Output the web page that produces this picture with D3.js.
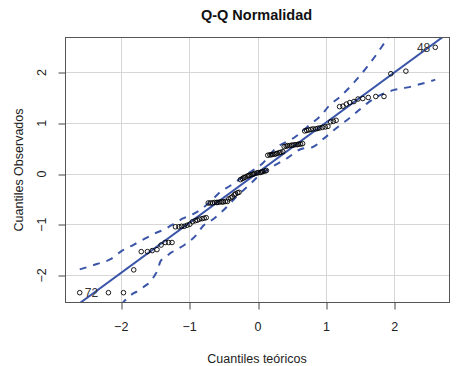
<!DOCTYPE html>
<html><head><meta charset="utf-8">
<script src="https://cdn.jsdelivr.net/npm/d3@7"></script>
<style>body{margin:0;background:#fff} svg{display:block}</style>
</head><body><svg id="c" width="456" height="366"></svg>
<script>
const theoretical = [
 -2.60,-2.18,-1.96,-1.81,-1.70,-1.61,-1.54,-1.47,-1.41,-1.35,-1.30,-1.25,-1.20,-1.15,-1.11,-1.07,-1.03,-0.99,
 -0.95,-0.91,-0.88,-0.85,-0.81,-0.78,-0.75,-0.72,-0.69,-0.66,-0.63,-0.60,-0.58,-0.55,-0.52,-0.50,-0.47,-0.44,
 -0.42,-0.39,-0.37,-0.34,-0.32,-0.29,-0.27,-0.25,-0.22,-0.20,-0.18,-0.15,-0.13,-0.11,-0.08,-0.06,-0.04,-0.01,
 0.01,0.04,0.06,0.08,0.11,0.13,0.15,0.18,0.20,0.22,0.25,0.27,0.29,0.32,0.34,0.37,0.39,0.42,
 0.44,0.47,0.50,0.52,0.55,0.58,0.60,0.63,0.66,0.69,0.72,0.75,0.78,0.81,0.85,0.88,0.91,0.95,
 0.99,1.03,1.07,1.11,1.15,1.20,1.25,1.30,1.35,1.41,1.47,1.54,1.62,1.73,1.85,1.95,2.17,2.60
];
const observed = [
 -2.35,-2.35,-2.35,-1.90,-1.54,-1.54,-1.52,-1.50,-1.41,-1.36,-1.36,-1.36,
 -1.05,-1.05,-1.04,-1.04,-1.02,-1.00,
 -0.95,-0.93,-0.92,-0.90,-0.89,-0.88,-0.87,
 -0.58,-0.58,-0.58,-0.57,-0.57,-0.57,-0.56,-0.56,-0.56,-0.55,-0.55,
 -0.50,-0.48,-0.46,-0.42,-0.40,-0.38,-0.37,
 -0.12,-0.10,-0.08,-0.07,-0.05,-0.04,-0.03,-0.02,-0.01,0.00,0.01,0.02,0.02,0.03,0.04,0.05,0.06,
 0.36,0.37,0.37,0.38,0.38,0.39,0.40,0.41,0.42,0.43,
 0.53,0.54,0.55,0.55,0.56,0.56,0.57,0.57,0.58,0.58,0.59,
 0.84,0.85,0.86,0.87,0.88,0.88,0.89,0.90,0.91,0.92,0.93,
 1.02,1.03,1.05,
 1.32,1.33,1.37,1.40,1.42,1.47,1.48,1.50,1.52,1.52,
 1.97,2.02,2.49
];
const idIndex = [0, 107];
const idText = ["72", "48"];
const idSide = ["right", "left"];

const lineIntercept = 0.014;
const lineSlope = 0.989;

// Simulated confidence envelope
const upperX = [-2.60,-2.35,-2.15,-1.98,-1.82,-1.64,-1.50,-1.36,-1.21,-1.09,-0.93,-0.80,-0.65,-0.55,-0.40,-0.25,-0.14,0.08,0.26,0.55,0.78,0.91,1.05,1.22,1.38,1.60,1.74,1.91,2.20,2.60];
const upperY = [-1.89,-1.785,-1.69,-1.52,-1.41,-1.28,-1.18,-1.10,-0.98,-0.886,-0.79,-0.68,-0.50,-0.37,-0.24,-0.10,0.00,0.21,0.49,0.72,0.98,1.12,1.34,1.53,1.75,2.10,2.35,2.68,3.10,3.80];
const lowerX = [-2.60,-2.20,-1.97,-1.81,-1.72,-1.65,-1.58,-1.50,-1.47,-1.41,-1.38,-1.26,-1.21,-1.06,-0.90,-0.80,-0.65,-0.45,-0.31,-0.09,0.03,0.20,0.43,0.65,0.80,0.97,1.11,1.37,1.60,1.80,2.00,2.20,2.37,2.60];
const lowerY = [-3.70,-3.00,-2.55,-2.36,-2.30,-2.22,-2.15,-2.00,-1.93,-1.71,-1.69,-1.555,-1.52,-1.40,-1.22,-1.04,-0.90,-0.66,-0.46,-0.185,-0.03,0.12,0.30,0.49,0.52,0.69,0.85,1.12,1.38,1.55,1.65,1.70,1.76,1.85];

const xTicks = [-2,-1,0,1,2];
const yTicks = [-2,-1,0,1,2];
const titleText = "Q-Q Normalidad";
const xTitle = "Cuantiles teóricos";
const yTitle = "Cuantiles Observados";

const FONT = "'Liberation Sans', Arial, Helvetica, sans-serif";
const BLUE = "#3a55a8";
const L = 65.5, R = 449.5, T = 37.5, B = 302.5;

function rExtend(ext){ const d = ext[1]-ext[0]; return [ext[0]-0.04*d, ext[1]+0.04*d]; }
const x = d3.scaleLinear().domain(rExtend(d3.extent(theoretical))).range([L, R]);
const y = d3.scaleLinear().domain(rExtend(d3.extent(observed))).range([B, T]);

const svg = d3.select("#c");
svg.append("rect").attr("width",456).attr("height",366).attr("fill","#fff");

svg.append("defs").append("clipPath").attr("id","clip")
  .append("rect").attr("x",L).attr("y",T).attr("width",R-L).attr("height",B-T);

// grid
const grid = svg.append("g").attr("stroke","#d6d6d6").attr("stroke-width",1);
grid.selectAll(".gx").data(xTicks).enter().append("line")
  .attr("x1",d=>Math.round(x(d))+0.5).attr("x2",d=>Math.round(x(d))+0.5).attr("y1",T).attr("y2",B);
grid.selectAll(".gy").data(yTicks).enter().append("line")
  .attr("y1",d=>Math.round(y(d))+0.5).attr("y2",d=>Math.round(y(d))+0.5).attr("x1",L).attr("x2",R);

const plot = svg.append("g").attr("clip-path","url(#clip)");

// envelope
const lineGen = d3.line().x(d=>x(d[0])).y(d=>y(d[1])).curve(d3.curveMonotoneX);
plot.append("path").datum(upperX.map((v,i)=>[v,upperY[i]]))
  .attr("d",lineGen).attr("fill","none").attr("stroke",BLUE).attr("stroke-width",2).attr("stroke-dasharray","7,7");
plot.append("path").datum(lowerX.map((v,i)=>[v,lowerY[i]]))
  .attr("d",lineGen).attr("fill","none").attr("stroke",BLUE).attr("stroke-width",2).attr("stroke-dasharray","7,7");

// reference line
const xd = x.domain();
plot.append("line")
  .attr("x1",x(xd[0])).attr("y1",y(lineIntercept+lineSlope*xd[0]))
  .attr("x2",x(xd[1])).attr("y2",y(lineIntercept+lineSlope*xd[1]))
  .attr("stroke",BLUE).attr("stroke-width",2);

// points
svg.append("g").selectAll("circle").data(observed).enter().append("circle")
  .attr("cx",(d,i)=>x(theoretical[i])).attr("cy",d=>y(d)).attr("r",2.3)
  .attr("fill","none").attr("stroke","#000").attr("stroke-width",0.9);

// id labels
svg.append("g").selectAll("text").data(idIndex).enter().append("text")
  .attr("x",(d,k)=>x(theoretical[d]) + (idSide[k]==="right"? 5 : -5))
  .attr("y",d=>y(observed[d]))
  .attr("dy","0.36em")
  .attr("text-anchor",(d,k)=>idSide[k]==="right"?"start":"end")
  .attr("font-family",FONT).attr("font-size",12).attr("fill","#333")
  .text((d,k)=>idText[k]);

// box
svg.append("rect").attr("x",L).attr("y",T).attr("width",R-L).attr("height",B-T)
  .attr("fill","none").attr("stroke","#555").attr("stroke-width",1);

// axes
const ax = svg.append("g").attr("transform",`translate(0,${B})`)
  .call(d3.axisBottom(x).tickValues(xTicks).tickSize(7).tickPadding(0).tickFormat(d3.format("d")));
ax.select(".domain").remove();
ax.selectAll(".tick line").attr("stroke","#444").attr("transform",d=>`translate(${Math.round(x(d))+0.5-x(d)},0)`);
ax.selectAll(".tick text").attr("y",28.5).attr("dy",null).attr("font-family",FONT).attr("font-size",12.5).attr("fill","#222");

const ay = svg.append("g").attr("transform",`translate(${L},0)`)
  .call(d3.axisLeft(y).tickValues(yTicks).tickSize(7).tickFormat(d3.format("d")));
ay.select(".domain").remove();
ay.selectAll(".tick line").attr("stroke","#444").attr("transform",d=>`translate(0,${Math.round(y(d))+0.5-y(d)})`);
ay.selectAll(".tick text").attr("x",null).attr("dy",null)
  .attr("transform",`translate(${46-L},0) rotate(-90)`)
  .attr("text-anchor","middle")
  .attr("font-family",FONT).attr("font-size",12.5).attr("fill","#222");

// titles
svg.append("text").attr("x",256.5).attr("y",20).attr("text-anchor","middle")
  .attr("font-family",FONT).attr("font-weight","bold").attr("font-size",14.5).attr("fill","#111").text(titleText);
svg.append("text").attr("x",257).attr("y",363).attr("text-anchor","middle")
  .attr("font-family",FONT).attr("font-size",12.5).attr("fill","#222").text(xTitle);
svg.append("text").attr("transform","translate(23,170) rotate(-90)").attr("text-anchor","middle")
  .attr("font-family",FONT).attr("font-size",12.5).attr("fill","#222").text(yTitle);
</script>
</body></html>
